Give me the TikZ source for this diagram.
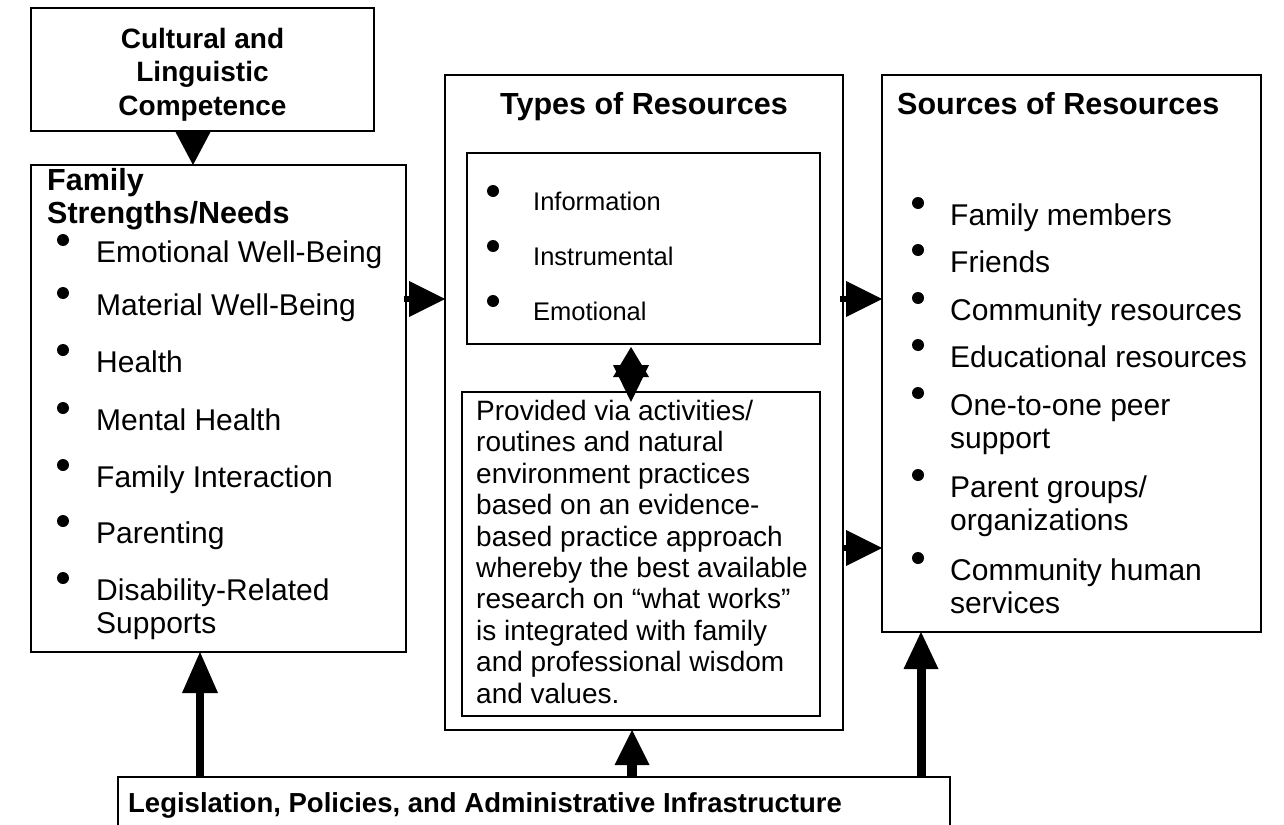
\documentclass[tikz,border=0pt]{standalone}
\usepackage{fontspec}
\setmainfont{Liberation Sans}
\usetikzlibrary{arrows.meta,calc}
\begin{document}
\begin{tikzpicture}[x=1pt,y=-1pt,
  box/.style={draw, line width=1.6pt, anchor=north west, inner sep=0pt, outer sep=0pt},
  body/.style={font=\fontsize{30}{34}\selectfont, anchor=base west, inner sep=0pt},
  para/.style={font=\fontsize{28}{32}\selectfont, anchor=base west, inner sep=0pt},
  small/.style={font=\fontsize{25.5}{29}\selectfont, anchor=base west, inner sep=0pt},
  head/.style={font=\bfseries\fontsize{30.5}{34}\selectfont, inner sep=0pt},
  dot/.style={circle, fill, inner sep=0pt, minimum size=12pt},
  sidearrow/.style={line width=6pt, -{Triangle[width=36pt,length=36pt,line width=0pt]}},
]
\useasboundingbox (0,0) rectangle (1284,824);
\fill[white] (0,0) rectangle (1284,824);

% boxes
\node[box, minimum width=343pt, minimum height=123pt] (cult) at (31,8) {};
\node[box, minimum width=375pt, minimum height=487pt] (fam) at (31,165) {};
\node[box, minimum width=398pt, minimum height=655pt] (types) at (445,75) {};
\node[box, minimum width=353pt, minimum height=191pt] (b1) at (467,153) {};
\node[box, minimum width=358pt, minimum height=324pt] (b2) at (462,392) {};
\node[box, minimum width=379pt, minimum height=557pt] (src) at (882,75) {};
\node[box, minimum width=832pt, minimum height=70pt] (leg) at (118,777) {};

% headings
\node[font=\bfseries\fontsize{28}{33.5}\selectfont, inner sep=0pt, align=center] (cultt)
  at ($(cult.center)+(0,5)$) {Cultural and\\Linguistic\\Competence};
\node[head, anchor=base west] (famh1) at (47,190) {Family};
\node[head, anchor=base west] (famh2) at (47,223) {Strengths/Needs};
\node[head, anchor=base] (typesh) at (644,115) {Types of Resources};
\node[head, anchor=base west] (srch) at (897,115) {Sources of Resources};
\node[font=\bfseries\fontsize{27.5}{33}\selectfont, inner sep=0pt, anchor=base] (legt)
  at (485,812) {Legislation, Policies, and Administrative Infrastructure};

% family list
\foreach \t/\y/\b [count=\i] in {Emotional Well-Being/262/1, Material Well-Being/315/1, Health/372/1,
  Mental Health/430/1, Family Interaction/487/1, Parenting/543/1, Disability-Related/600/1, Supports/633/0}{
  \node[body] (fi\i) at (96,\y) {\t};
  \ifnum\b=1 \node[dot] (fb\i) at (63,\y-22) {}; \fi
}

% sources list
\foreach \t/\y/\b [count=\i] in {Family members/225/1, Friends/272/1, Community resources/320/1,
  Educational resources/367/1, One-to-one peer/415/1, support/448/0, Parent groups\slash/497/1,
  organizations/530/0, Community human/580/1, services/613/0}{
  \node[body] (si\i) at (950,\y) {\t};
  \ifnum\b=1 \node[dot] (sb\i) at (918,\y-22) {}; \fi
}

% types list
\foreach \t/\y [count=\i] in {Information/210, Instrumental/265, Emotional/320}{
  \node[small] (ti\i) at (533,\y) {\t};
  \node[dot] (tb\i) at (493,\y-19) {};
}

% box 2 text
\foreach \t [count=\i] in {Provided via activities\slash, routines and natural, environment practices,
  based on an evidence-, based practice approach, whereby the best available,
  research on “what works”, is integrated with family, and professional wisdom, and values.}{
  \node[para] (p\i) at (476,389+31.4*\i) {\t};
}

% arrows
\draw[line width=0.5pt, -{Triangle[width=36pt,length=34pt,line width=0pt]}]
  ($(cult.south west)+(162,0)$) -- ($(fam.north west)+(162,0)$);
\draw[sidearrow] ($(fam.north east)+(-2,134)$) -- ($(types.north west)+(0,224)$);
\draw[sidearrow] ($(types.north east)+(-3,224)$) -- ($(src.north west)+(0,224)$);
\draw[sidearrow] ($(types.north east)+(0,473)$) -- ($(src.north west)+(0,473)$);

\draw[line width=8pt, -{Triangle[width=36pt,length=41pt,line width=0pt]}]
  ($(leg.north west)+(82,0)$) -- ($(fam.south west)+(169,0)$);
\draw[line width=10pt, -{Triangle[width=35pt,length=35pt,line width=0pt]}]
  ($(leg.north west)+(514,0)$) -- ($(types.south west)+(187,0)$);
\draw[line width=9pt, -{Triangle[width=35pt,length=37pt,line width=0pt]}]
  ($(leg.north west)+(803,0)$) -- ($(src.south west)+(39,0)$);

% double arrow (star) between inner boxes
\draw[line width=0.5pt, -{Triangle[width=36pt,length=30pt,line width=0pt]}]
  ($(b2.north west)+(169,-15)$) -- ($(b1.south west)+(164,3)$);
\draw[line width=0.5pt, -{Triangle[width=36pt,length=37pt,line width=0pt]}]
  ($(b1.south west)+(164,21)$) -- ($(b2.north west)+(169,10)$);
\end{tikzpicture}
\end{document}
